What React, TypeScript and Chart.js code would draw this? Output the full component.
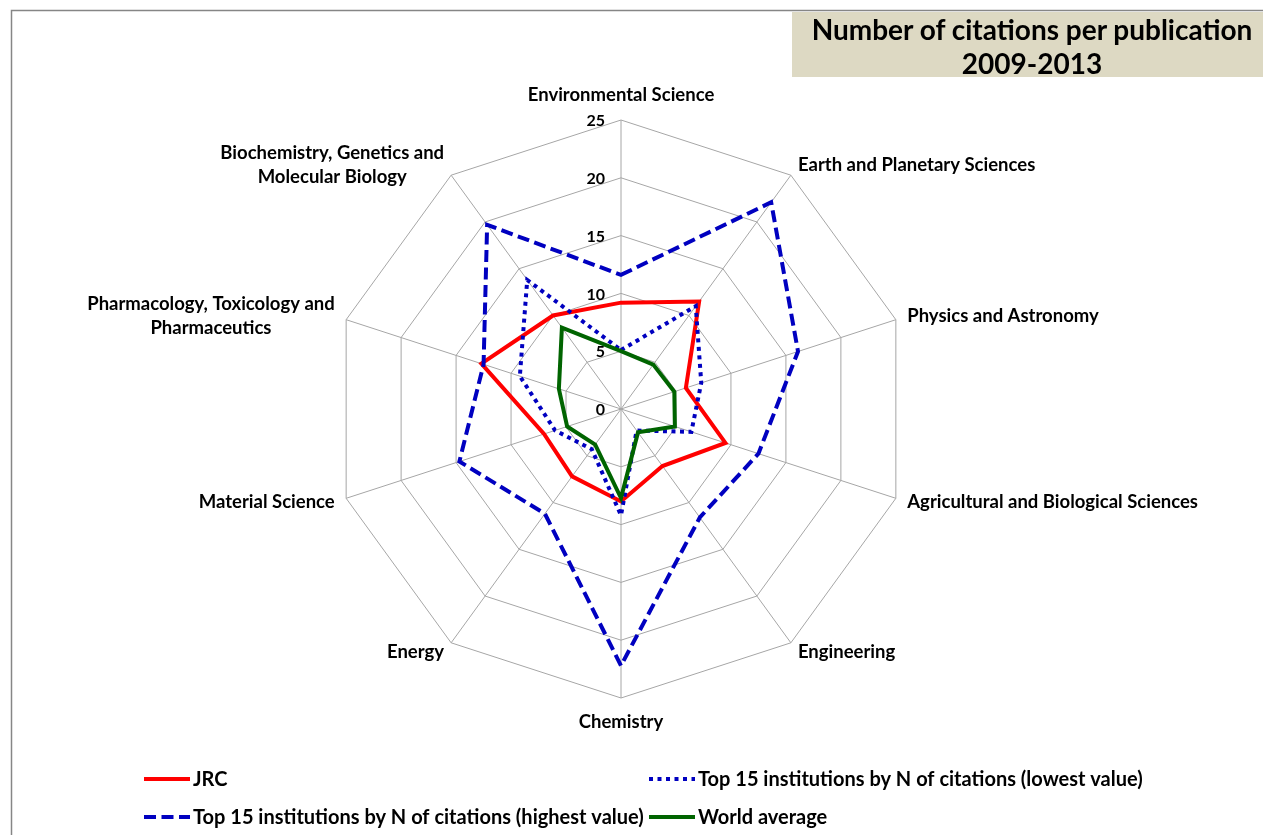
import React, { useEffect, useRef } from "react";
import { Chart, registerables } from "chart.js";

Chart.register(...registerables);

const categories: (string | string[])[] = [
  "Environmental Science",
  "Earth and Planetary Sciences",
  "Physics and Astronomy",
  "Agricultural and Biological Sciences",
  "Engineering",
  "Chemistry",
  "Energy",
  "Material Science",
  ["Pharmacology, Toxicology and", "Pharmaceutics"],
  ["Biochemistry, Genetics and", "Molecular Biology"],
];

const jrcValues = [9.2, 11.5, 5.9, 9.5, 6.1, 8.0, 7.2, 7.0, 12.7, 10.0];
const lowestValues = [5.1, 11.0, 7.3, 6.4, 2.3, 9.2, 4.3, 6.0, 9.2, 13.8];
const highestValues = [11.6, 22.1, 16.1, 12.5, 11.6, 22.2, 11.2, 14.7, 12.5, 19.7];
const worldValues = [5.0, 4.75, 4.85, 4.9, 2.5, 7.7, 3.8, 4.9, 5.65, 8.7];

const seriesNames = [
  "JRC",
  "Top 15 institutions by N of citations (lowest value)",
  "Top 15 institutions by N of citations (highest value)",
  "World average",
];

const titleLines = ["Number of citations per publication", "2009-2013"];

const FONT = "Lato, 'Open Sans', sans-serif";
const RED = "#FF0000";
const BLUE = "#0000C0";
const GREEN = "#006400";
const GRID = "#A6A6A6";

const decorPlugin = {
  id: "decor",
  beforeDraw(chart: any) {
    const ctx = chart.ctx;
    ctx.save();
    ctx.strokeStyle = "#868686";
    ctx.lineWidth = 1.5;
    ctx.beginPath();
    ctx.moveTo(11.5, 835);
    ctx.lineTo(11.5, 10.5);
    ctx.lineTo(1263, 10.5);
    ctx.stroke();
    ctx.restore();
  },
  afterDraw(chart: any) {
    const ctx = chart.ctx;
    const scale = chart.scales.r;
    ctx.save();
    ctx.fillStyle = "#000";

    // radial tick labels
    ctx.font = `bold 16px ${FONT}`;
    ctx.textAlign = "right";
    ctx.textBaseline = "middle";
    scale.ticks.forEach((t: any) => {
      const d = scale.getDistanceFromCenterForValue(t.value);
      ctx.fillText(String(t.label ?? t.value), scale.xCenter - 16, scale.yCenter - d + 1);
    });

    // category labels
    ctx.font = `bold 18.5px ${FONT}`;
    const n = chart.data.labels.length;
    const lineH = 24;
    for (let i = 0; i < n; i++) {
      const raw = chart.data.labels[i];
      const lines: string[] = Array.isArray(raw) ? raw : [raw];
      const p = scale.getPointPosition(i, scale.drawingArea + 12);
      const dx = p.x - scale.xCenter;
      const dy = p.y - scale.yCenter;
      const widths = lines.map((l) => ctx.measureText(l).width);
      const maxW = Math.max(...widths);
      let cx: number;
      let cy = p.y;
      if (Math.abs(dx) < 1) {
        cx = p.x;
        cy = p.y + (dy < 0 ? -13 : 12);
      } else if (dx > 0) {
        cx = p.x + maxW / 2;
      } else {
        cx = p.x - maxW / 2;
      }
      ctx.textAlign = "center";
      ctx.textBaseline = "middle";
      const top = cy - ((lines.length - 1) * lineH) / 2;
      lines.forEach((l, k) => ctx.fillText(l, cx, top + k * lineH));
    }

    // legend
    const items = [
      { x: 144, y: 779, color: RED, dash: [] as number[], ds: 0 },
      { x: 649, y: 779, color: BLUE, dash: [4, 4.5], ds: 1 },
      { x: 144, y: 817, color: BLUE, dash: [12, 5.5], ds: 2 },
      { x: 649, y: 817, color: GREEN, dash: [] as number[], ds: 3 },
    ];
    ctx.font = `bold 20px ${FONT}`;
    ctx.textAlign = "left";
    ctx.textBaseline = "middle";
    items.forEach((it) => {
      ctx.save();
      ctx.strokeStyle = it.color;
      ctx.lineWidth = 4;
      ctx.lineCap = "butt";
      ctx.setLineDash(it.dash);
      ctx.beginPath();
      ctx.moveTo(it.x, it.y);
      ctx.lineTo(it.x + 46, it.y);
      ctx.stroke();
      ctx.restore();
      ctx.fillText(chart.data.datasets[it.ds].label, it.x + 49, it.y + 1);
    });
    ctx.restore();
  },
};

export default function App() {
  const canvasRef = useRef<HTMLCanvasElement | null>(null);

  useEffect(() => {
    if (!canvasRef.current) return;
    const chart = new Chart(canvasRef.current, {
      type: "radar",
      data: {
        labels: categories as any,
        datasets: [
          {
            label: seriesNames[0],
            data: jrcValues,
            borderColor: RED,
            borderWidth: 4,
            fill: false,
            pointRadius: 0,
            order: 4,
          },
          {
            label: seriesNames[1],
            data: lowestValues,
            borderColor: BLUE,
            borderWidth: 4,
            borderDash: [4, 4.5],
            fill: false,
            pointRadius: 0,
            order: 3,
          },
          {
            label: seriesNames[2],
            data: highestValues,
            borderColor: BLUE,
            borderWidth: 4,
            borderDash: [12, 5.5],
            fill: false,
            pointRadius: 0,
            order: 2,
          },
          {
            label: seriesNames[3],
            data: worldValues,
            borderColor: GREEN,
            borderWidth: 4,
            fill: false,
            pointRadius: 0,
            order: 1,
          },
        ],
      },
      options: {
        animation: false,
        responsive: false,
        maintainAspectRatio: false,
        layout: { padding: { left: 332, right: 353, top: 120, bottom: 137 } },
        plugins: {
          legend: { display: false },
          tooltip: { enabled: false },
          title: { display: false },
        },
        elements: { line: { tension: 0, borderJoinStyle: "miter" } },
        scales: {
          r: {
            min: 0,
            max: 25,
            beginAtZero: true,
            ticks: { stepSize: 5, display: false },
            grid: { color: GRID, lineWidth: 1, circular: false },
            angleLines: { color: GRID, lineWidth: 1 },
            pointLabels: { display: false },
          },
        },
      },
      plugins: [decorPlugin],
    });
    return () => chart.destroy();
  }, []);

  return (
    <div
      style={{
        position: "absolute",
        left: 0,
        top: 0,
        width: 1263,
        height: 835,
        overflow: "hidden",
        background: "#fff",
      }}
    >
      <canvas
        ref={canvasRef}
        width={1263}
        height={835}
        style={{ position: "absolute", left: 0, top: 0, width: 1263, height: 835 }}
      />
      <div
        style={{
          position: "absolute",
          left: 792,
          top: 12,
          width: 471,
          height: 65,
          background: "#DDD9C3",
          fontFamily: FONT,
          fontWeight: 700,
          fontSize: 28,
          lineHeight: "34px",
          textAlign: "center",
          paddingLeft: 9,
          paddingTop: 0,
          boxSizing: "border-box",
          color: "#000",
          whiteSpace: "nowrap",
        }}
      >
        {titleLines.map((t, i) => (
          <div key={i}>{t}</div>
        ))}
      </div>
    </div>
  );
}
